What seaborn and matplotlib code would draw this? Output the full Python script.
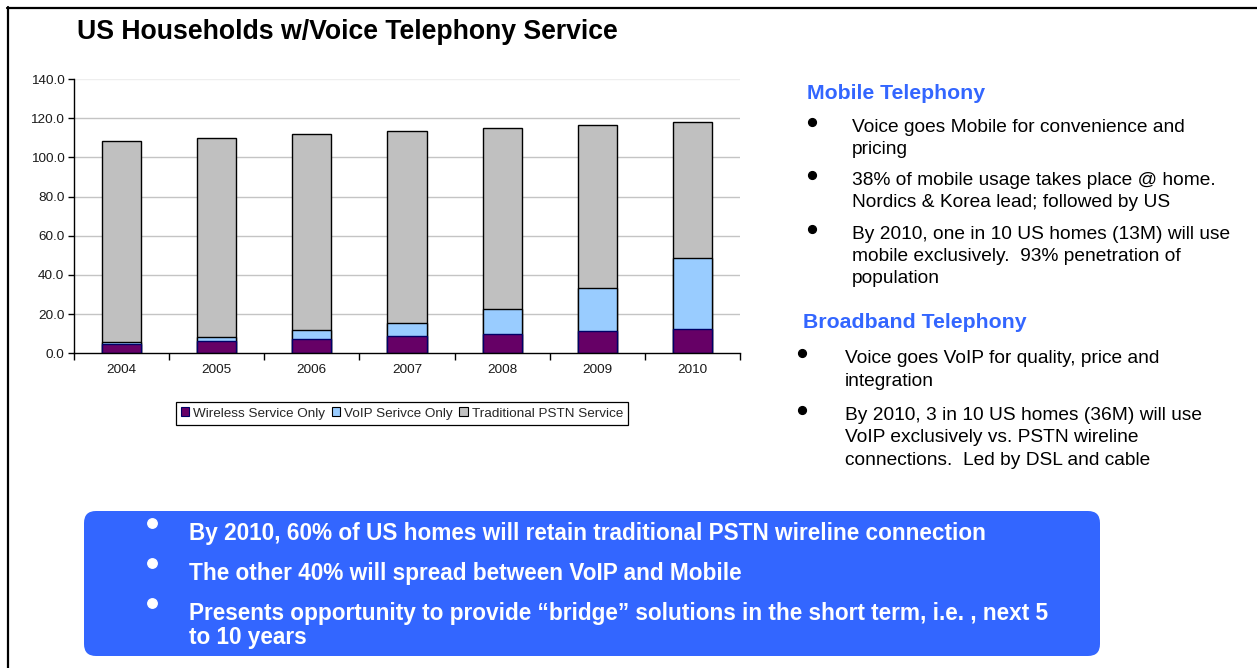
import matplotlib
matplotlib.use('Agg')
import matplotlib.pyplot as plt
import seaborn as sns
import pandas as pd
import numpy as np
from matplotlib.patches import FancyBboxPatch, Patch
from matplotlib.lines import Line2D
from matplotlib.transforms import IdentityTransform
from matplotlib.ticker import FixedLocator, FixedFormatter

# ---------------- data ----------------
years = ['2004', '2005', '2006', '2007', '2008', '2009', '2010']
wireless = [5.0, 6.3, 7.5, 8.8, 10.0, 11.2, 12.6]
voip = [0.8, 1.9, 4.4, 6.8, 12.6, 22.1, 35.9]
pstn = [102.6, 101.8, 100.2, 97.7, 92.6, 83.2, 69.7]
series_names = ['Wireless Service Only', 'VoIP Serivce Only', 'Traditional PSTN Service']
series_colors = ['#660066', '#99CCFF', '#C0C0C0']
y_ticks = [0, 20, 40, 60, 80, 100, 120, 140]
y_tick_labels = ['0.0', '20.0', '40.0', '60.0', '80.0', '100.0', '120.0', '140.0']

title = 'US Households w/Voice Telephony Service'
heading1 = 'Mobile Telephony'
mobile_bullets = [
    ['Voice goes Mobile for convenience and', 'pricing'],
    ['38% of mobile usage takes place @ home.', 'Nordics & Korea lead; followed by US'],
    ['By 2010, one in 10 US homes (13M) will use', 'mobile exclusively.  93% penetration of', 'population'],
]
heading2 = 'Broadband Telephony'
broadband_bullets = [
    ['Voice goes VoIP for quality, price and', 'integration'],
    ['By 2010, 3 in 10 US homes (36M) will use', 'VoIP exclusively vs. PSTN wireline', 'connections.  Led by DSL and cable'],
]
box_bullets = [
    ['By 2010, 60% of US homes will retain traditional PSTN wireline connection'],
    ['The other 40% will spread between VoIP and Mobile'],
    ['Presents opportunity to provide \u201cbridge\u201d solutions in the short term, i.e. , next 5', 'to 10 years'],
]

# ---------------- setup ----------------
sns.set_theme(style='white')
plt.rcParams['font.family'] = ['Liberation Sans', 'DejaVu Sans']

W, H = 1257, 668
fig = plt.figure(figsize=(W / 100, H / 100), dpi=100)
fig.patch.set_facecolor('white')


def fx(x):
    return x / W


def fy(y):
    return 1 - y / H


ax = fig.add_axes([74 / W, 1 - 353.3 / H, 666 / W, 274.3 / H])

df = pd.DataFrame({'year': years, 'wireless': wireless, 'voip': voip, 'pstn': pstn})
df['lvl2'] = df['wireless'] + df['voip']
df['lvl3'] = df['lvl2'] + df['pstn']

bw = 0.41
sns.barplot(data=df, x='year', y='lvl3', color=series_colors[2], saturation=1, width=bw,
            edgecolor='black', linewidth=1.0, errorbar=None, ax=ax, zorder=2)
sns.barplot(data=df, x='year', y='lvl2', color=series_colors[1], saturation=1, width=bw,
            edgecolor='black', linewidth=1.0, errorbar=None, ax=ax, zorder=3)
sns.barplot(data=df, x='year', y='wireless', color=series_colors[0], saturation=1, width=bw,
            edgecolor='#000066', linewidth=1.0, errorbar=None, ax=ax, zorder=4)

ax.set_xlim(-0.5, 6.5)
ax.set_ylim(0, 140)
ax.set_xlabel('')
ax.set_ylabel('')
ax.yaxis.set_major_locator(FixedLocator(y_ticks))
ax.yaxis.set_major_formatter(FixedFormatter(y_tick_labels))
ax.set_axisbelow(True)
ax.yaxis.grid(True, color='#C4C4C4', lw=1.0)
gl = ax.get_ygridlines()
gl[-1].set_color('#EEEEEE')
gl[0].set_visible(False)

for s in ['top', 'right']:
    ax.spines[s].set_visible(False)
for s in ['left', 'bottom']:
    ax.spines[s].set_color('black')
    ax.spines[s].set_linewidth(1.0)
    ax.spines[s].set_zorder(5)

ax.xaxis.set_minor_locator(FixedLocator(np.arange(-0.5, 7, 1)))
ax.tick_params(axis='x', which='major', length=0, pad=8, labelsize=9.7, colors='#1a1a1a', bottom=True)
ax.tick_params(axis='x', which='minor', length=5, width=1, color='black', bottom=True)
ax.tick_params(axis='y', which='major', length=4, width=1, color='black', left=True, pad=3,
               labelsize=9.7, labelcolor='#1a1a1a')

# legend
handles = [Patch(facecolor=c, edgecolor=ec, linewidth=0.8)
           for c, ec in zip(series_colors, ['#000066', 'black', 'black'])]
leg = fig.legend(handles, series_names, loc='center', bbox_to_anchor=(fx(402), fy(413.5)),
                 ncol=3, fontsize=9.7, frameon=True, fancybox=False, edgecolor='black',
                 framealpha=1, handlelength=0.6, handleheight=0.6, handletextpad=0.3,
                 columnspacing=0.5, borderpad=0.4, borderaxespad=0)
leg.get_frame().set_linewidth(0.9)

# outer border (top & left)
fig.add_artist(Line2D([fx(6.5), 1], [fy(7.5), fy(7.5)], color='black', lw=1.6, transform=fig.transFigure))
fig.add_artist(Line2D([fx(7.5), fx(7.5)], [fy(6.5), 0], color='black', lw=1.6, transform=fig.transFigure))

# title
fig.text(fx(77), fy(39), title, fontsize=19.2, fontweight='bold', ha='left', va='baseline', color='black')

# right panel
blue = '#3366FF'
fig.text(fx(807), fy(99), heading1, fontsize=15.3, fontweight='bold', color=blue, ha='left', va='baseline')


def bullet(x, y, size, color='black'):
    fig.add_artist(Line2D([fx(x)], [fy(y)], marker='o', ms=size, mfc=color, mec=color,
                          ls='none', transform=fig.transFigure))


mobile_first = [131.5, 185, 239.3]
for lines, b0 in zip(mobile_bullets, mobile_first):
    bullet(812, b0 - 10, 5.6)
    for i, line in enumerate(lines):
        fig.text(fx(852), fy(b0 + i * 22), line, fontsize=13.75, ha='left', va='baseline', color='black')

fig.text(fx(803), fy(328.3), heading2, fontsize=15.3, fontweight='bold', color=blue, ha='left', va='baseline')
bb_first = [363.3, 420]
for lines, b0 in zip(broadband_bullets, bb_first):
    bullet(802, b0 - 10.5, 5.6)
    for i, line in enumerate(lines):
        fig.text(fx(845), fy(b0 + i * 22.5), line, fontsize=13.75, ha='left', va='baseline', color='black')

# blue box
box = FancyBboxPatch((84, H - 656), 1016, 145, boxstyle='round,pad=0,rounding_size=12',
                     transform=IdentityTransform(), facecolor=blue, edgecolor='none')
fig.add_artist(box)
box_first = [540, 580, 620]
for lines, b0 in zip(box_bullets, box_first):
    bullet(152, b0 - 17, 6.8, 'white')
    for i, line in enumerate(lines):
        fig.text(fx(189), fy(b0 + i * 24), line, fontsize=16.3, fontweight='bold', ha='left',
                 va='baseline', color='white')

fig.savefig('out.png', dpi=100, facecolor='white')
